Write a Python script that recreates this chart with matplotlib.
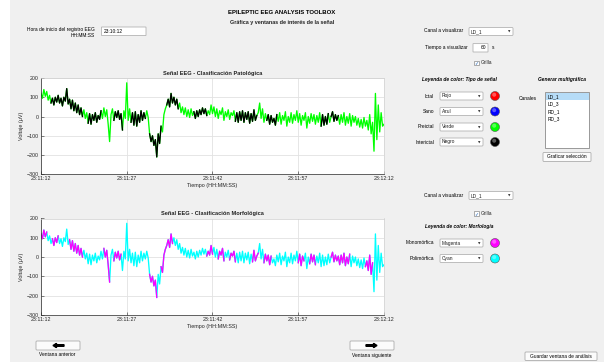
import numpy as np
import matplotlib
matplotlib.use("Agg")
import matplotlib.pyplot as plt
import matplotlib.patches as mpatches

plt.rcParams['font.family'] = ['Liberation Sans', 'DejaVu Sans']

# Señal EEG del canal LD_1 (μV), una muestra cada 0.25 s, ventana de 60 s
dt = 0.25
senal = [
    120, 95, 140, 105, 130, 85, 110, 70, 95, 60, 100, 75, 110, 70, 95, 55, 100, 80, 145, 65,
    90, 40, 85, 30, 70, 20, 60, 10, 45, 0, 35, -10, 20, -35, 15, -40, 10, -20, 20, -30,
    5, -15, 30, -10, 45, 0, 35, -40, -130, 10, 40, -20, 25, -5, 30, -15, 15, -70, 30, -10,
    175, -20, 40, -30, 20, -45, 25, -50, 10, -30, 30, -20, 20, -10, 30, -5, -90, -130, -100, -150,
    -120, -210, -90, -140, -50, -80, 10, 40, 60, 90, 50, 120, 70, 100, 60, 90, 40, 70, 20, 50,
    10, 45, 0, 35, -5, 40, 5, 25, -10, 30, 0, 35, 10, 45, 15, 40, 5, 30, 10, 60,
    15, 50, 0, 40, -10, 30, 10, 45, -20, 25, 0, 35, -15, 20, 5, 30, -25, 20, -30, 25,
    -20, 30, -30, 20, -15, 25, -35, 15, -25, 35, -20, 5, 20, 70, -10, 40, -30, 15, -20, 10,
    -40, 5, -30, -10, -45, 10, -25, 20, -40, 5, -20, 25, -50, 0, -30, 20, -35, 10, -20, 30,
    -30, 15, -45, 5, -20, 20, -60, 0, -35, 15, -25, 10, -40, 5, -30, 20, -50, 10, -45, 0,
    -40, 15, -30, 0, 25, -25, 10, -20, 5, -40, 10, -30, 20, -45, 0, -35, 15, -50, 5, -30,
    0, -45, -10, -55, -15, -60, -5, -50, -20, -70, 10, -90, -30, -180, 120, -120, 60, -80, 20, -50,
    -40,
]

# Intervalos interictales (negro); el resto es preictal (verde)
interictal = [(1.9, 7.1), (8.3, 10.3), (12.9, 14.1), (15.8, 18.2), (19.0, 20.8), (22.0, 24.0),
              (26.9, 28.9), (34.2, 37.7), (39.7, 41.2), (49.0, 50.2), (50.8, 52.0)]
# Intervalos monomórficos (magenta); el resto es polimórfico (cyan)
monomorfica = [(0.0, 1.0), (2.2, 3.0), (5.1, 7.1), (11.2, 12.0), (12.9, 13.9), (19.0, 20.2),
               (21.0, 22.8), (29.0, 30.0), (31.0, 32.0), (33.1, 34.0), (37.0, 38.0),
               (39.2, 40.1), (45.0, 45.8), (47.0, 47.9), (50.8, 54.0), (56.9, 58.0)]

xticks = [0, 15, 30, 45, 60]
xticklabels = ['23:11:12', '23:11:27', '23:11:42', '23:11:57', '23:12:12']
yticks = [-300, -200, -100, 0, 100, 200]

canales = ['LD_1', 'LD_3', 'RD_1', 'RD_3']
tipos = ['Ictal', 'Sano', 'Preictal', 'Interictal']
tipos_color = ['Rojo', 'Azul', 'Verde', 'Negro']
morfologias = ['Monomórfica', 'Polimórfica']
morfologias_color = ['Magenta', 'Cyan']

senal = np.array(senal, dtype=float)
t = np.arange(len(senal)) * dt

W, H = 604, 364
fig = plt.figure(figsize=(W / 100, H / 100), dpi=100, facecolor='white')

# capa de la interfaz en coordenadas de píxel
ui = fig.add_axes([0, 0, 1, 1])
ui.set_xlim(0, W)
ui.set_ylim(H, 0)
ui.axis('off')
ui.add_patch(mpatches.Rectangle((10, 0), W - 10, 362, fc='#f0f0f0', ec='none'))

FS = 3.5


def caja(x0, y0, x1, y1, fc='white', ec='#b4b4b4', r=1.0):
    ui.add_patch(mpatches.FancyBboxPatch((x0, y0), x1 - x0, y1 - y0,
                                         boxstyle='round,pad=0,rounding_size=%g' % r,
                                         fc=fc, ec=ec, lw=0.6))


def desplegable(x0, yc, x1, texto, h=8):
    caja(x0, yc - h / 2, x1, yc + h / 2)
    ui.text(x0 + 2, yc, texto, fontsize=FS, va='center', ha='left', color='#222222')
    ui.text(x1 - 4, yc + 0.3, '▼', fontsize=2.3, va='center', ha='center',
            color='#333333', family='DejaVu Sans')


def bola(cx, cy, color, r=4.5):
    ui.add_patch(mpatches.Circle((cx, cy), r, fc=color, ec='#555555', lw=0.4))
    ui.add_patch(mpatches.Circle((cx - 0.8, cy - 1.3), r * 0.45, fc='white', ec='none', alpha=0.35))


def casilla(x, y, texto):
    ui.add_patch(mpatches.Rectangle((x, y - 2.3), 4.6, 4.6, fc='white', ec='#8a8a8a', lw=0.5))
    ui.text(x + 2.3, y, '✓', fontsize=3.5, ha='center', va='center', color='#1a5fb4',
            family='DejaVu Sans')
    ui.text(x + 6.5, y, texto, fontsize=FS, ha='left', va='center', color='#222222')


# encabezado
ui.text(282, 12.7, 'EPILEPTIC EEG ANALYSIS TOOLBOX', fontsize=4.3, weight='bold',
        ha='center', va='center')
ui.text(282, 22.5, 'Gráfica y ventanas de interés de la señal', fontsize=3.9,
        weight='bold', ha='center', va='center', color='#222222')

ui.text(95, 29.5, 'Hora de inicio del registro EEG', fontsize=FS, ha='right', va='center')
ui.text(95, 35.5, 'HH:MM:SS', fontsize=FS, ha='right', va='center')
caja(101.5, 27, 146, 35.5, r=0.3)
ui.text(104, 31.2, '23:10:12', fontsize=FS, ha='left', va='center')

# controles superiores
ui.text(463, 31, 'Canal a visualizar', fontsize=FS, ha='right', va='center')
desplegable(469, 31.5, 513, canales[0])
ui.text(468, 47.6, 'Tiempo a visualizar', fontsize=FS, ha='right', va='center')
caja(473, 43.6, 488, 52, r=0.3)
ui.text(486, 47.8, '60', fontsize=FS, ha='right', va='center')
ui.text(493, 47.8, 's', fontsize=FS, ha='center', va='center')
casilla(474, 63, 'Grilla')

ui.text(459, 80, 'Leyenda de color: Tipo de señal', fontsize=3.5, weight='bold',
        style='italic', ha='center', va='center')
ui.text(562, 80, 'Generar multigráfica', fontsize=3.5, weight='bold', style='italic',
        ha='center', va='center')

filas_tipo = [96, 111.5, 127, 142]
for y, nombre, col_txt, col in zip(filas_tipo, tipos, tipos_color,
                                   ['#ff0000', '#0000ff', '#00ff00', '#000000']):
    ui.text(434, y, nombre, fontsize=FS, ha='right', va='center')
    desplegable(440, y, 483, col_txt)
    bola(495, y, col)

ui.text(537, 98, 'Canales', fontsize=FS, ha='right', va='center')
ui.add_patch(mpatches.Rectangle((545, 92), 44, 55.5, fc='white', ec='#8a8a8a', lw=0.6))
ui.add_patch(mpatches.Rectangle((545.5, 92.6), 43, 7.6, fc='#b6dcf7', ec='none'))
for k, nombre in enumerate(canales):
    ui.text(547.5, 96.5 + k * 7.6, nombre, fontsize=FS, ha='left', va='center')
caja(543, 152.5, 591, 161.5, fc='#fbfbfb', ec='#adadad')
ui.text(567, 157, 'Graficar selección', fontsize=FS, ha='center', va='center')

# controles inferiores
ui.text(463, 195.5, 'Canal a visualizar', fontsize=FS, ha='right', va='center')
desplegable(469, 195.5, 513, canales[0])
casilla(474, 213.5, 'Grilla')
ui.text(459, 226.5, 'Leyenda de color: Morfología', fontsize=3.5, weight='bold',
        style='italic', ha='center', va='center')
for y, nombre, col_txt, col in zip([243, 258.5], morfologias, morfologias_color,
                                   ['#ff00ff', '#00ffff']):
    ui.text(434, y, nombre, fontsize=FS, ha='right', va='center')
    desplegable(440, y, 483, col_txt)
    bola(495, y, col)

# botones de navegación
caja(36, 341, 80, 350, fc='#fbfbfb', ec='#adadad')
ui.add_patch(mpatches.FancyArrow(64, 345.5, -11, 0, width=1.6, head_width=4.2,
                                 head_length=3.5, length_includes_head=True, color='black'))
ui.text(57, 355, 'Ventana anterior', fontsize=FS, ha='center', va='center')
caja(350, 341, 394, 350, fc='#fbfbfb', ec='#adadad')
ui.add_patch(mpatches.FancyArrow(366, 345.5, 11, 0, width=1.6, head_width=4.2,
                                 head_length=3.5, length_includes_head=True, color='black'))
ui.text(372, 355, 'Ventana siguiente', fontsize=FS, ha='center', va='center')
caja(525, 352, 597, 360.5, fc='#fbfbfb', ec='#adadad')
ui.text(561, 356.3, 'Guardar ventana de análisis', fontsize=FS, ha='center', va='center')


def grafica(top, titulo, color_base, color_seg, intervalos):
    ax = fig.add_axes([41 / W, 1 - (top + 96.3) / H, 343 / W, 96.3 / H])
    ax.set_facecolor('white')
    ax.plot(t, senal, color=color_base, lw=0.95)
    for a, b in intervalos:
        i0 = max(int(np.floor(a / dt)), 0)
        i1 = min(int(np.ceil(b / dt)) + 1, len(senal))
        ax.plot(t[i0:i1], senal[i0:i1], color=color_seg, lw=0.95)
    ax.set_xlim(0, 60)
    ax.set_ylim(-300, 200)
    ax.set_xticks(xticks)
    ax.set_xticklabels(xticklabels)
    ax.set_yticks(yticks)
    ax.grid(True, color='#e2e2e2', lw=0.6)
    ax.set_axisbelow(True)
    ax.tick_params(direction='in', length=2, width=0.4, labelsize=3.8, pad=1.5,
                   colors='#262626')
    for s in ['left', 'bottom']:
        ax.spines[s].set_color('#262626')
        ax.spines[s].set_linewidth(0.5)
    for s in ['top', 'right']:
        ax.spines[s].set_color('#cfcfcf')
        ax.spines[s].set_linewidth(0.5)
    ax.set_title(titulo, fontsize=4.1, weight='bold', pad=2.5, color='#222222')
    ax.set_xlabel('Tiempo (HH:MM:SS)', fontsize=3.9, labelpad=1.5, color='#262626')
    ax.set_ylabel('Voltaje (μV)', fontsize=3.9, labelpad=2, color='#262626')
    return ax


grafica(78, 'Señal EEG - Clasificación Patológica', '#00ff00', 'black', interictal)
grafica(218.5, 'Señal EEG - Clasificación Morfológica', '#00ffff', '#ff00ff', monomorfica)

fig.savefig('out.png', dpi=100, facecolor='white')
